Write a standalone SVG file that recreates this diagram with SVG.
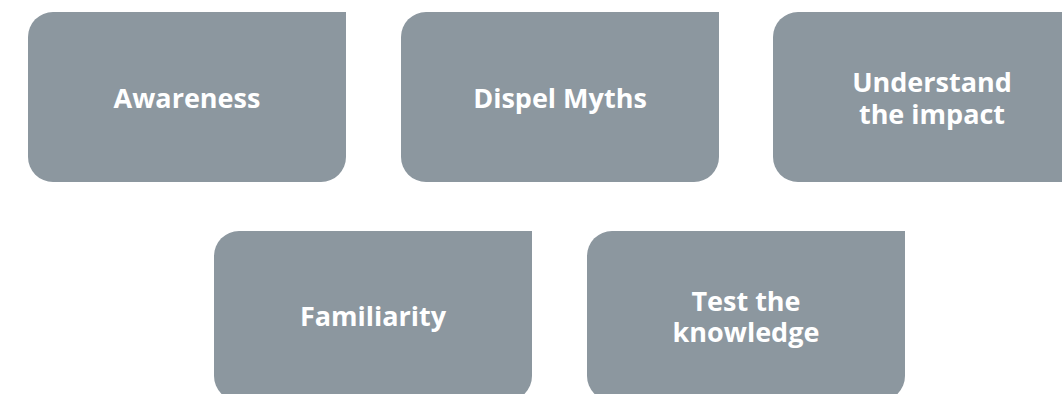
<svg xmlns="http://www.w3.org/2000/svg" width="1062" height="394" viewBox="0 0 1062 394">
<defs>
<style>
.box{fill:#8C979F;}
.lbl{fill:#FFFFFF;font-family:"Open Sans","Noto Sans","Liberation Sans",sans-serif;font-weight:bold;font-size:27px;text-anchor:middle;}
</style>
<path id="shape" d="M25,0 H318 V145 A25,25 0 0 1 293,170 H25 A25,25 0 0 1 0,145 V25 A25,25 0 0 1 25,0 Z"/>
</defs>
<rect width="1062" height="394" fill="#FFFFFF"/>
<g id="connectors"></g>
<g id="node-awareness" transform="translate(28,12)">
<use href="#shape" class="box"/>
<text class="lbl" x="159" y="96">Awareness</text>
</g>
<g id="node-dispel" transform="translate(401,12)">
<use href="#shape" class="box"/>
<text class="lbl" x="159" y="96">Dispel Myths</text>
</g>
<g id="node-impact" transform="translate(773,12)">
<use href="#shape" class="box"/>
<text class="lbl" x="159" y="80">Understand</text>
<text class="lbl" x="159" y="112">the impact</text>
</g>
<g id="node-familiarity" transform="translate(214,231)">
<use href="#shape" class="box"/>
<text class="lbl" x="159" y="95">Familiarity</text>
</g>
<g id="node-test" transform="translate(587,231)">
<use href="#shape" class="box"/>
<text class="lbl" x="159" y="80">Test the</text>
<text class="lbl" x="159" y="111">knowledge</text>
</g>
</svg>
